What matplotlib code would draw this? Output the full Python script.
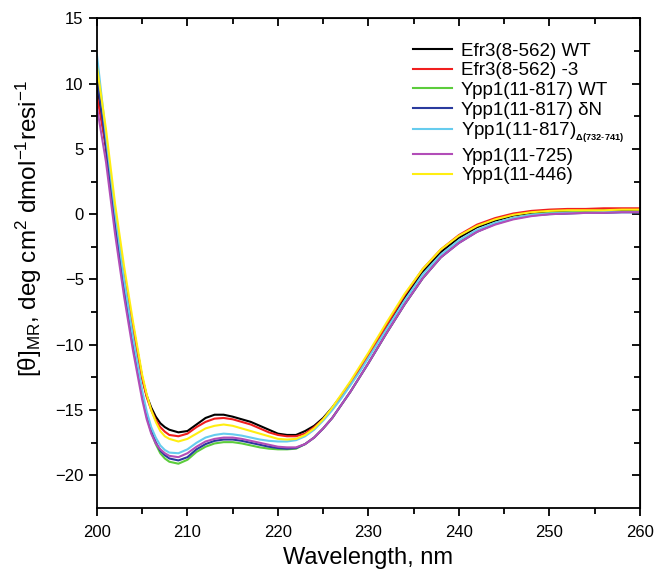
import matplotlib
matplotlib.use("Agg")
import matplotlib.pyplot as plt

plt.rcParams["font.family"] = ["Liberation Sans", "DejaVu Sans"]
plt.rcParams["mathtext.fontset"] = "custom"
plt.rcParams["mathtext.rm"] = "Liberation Sans"
plt.rcParams["mathtext.it"] = "Liberation Sans:italic"
plt.rcParams["mathtext.bf"] = "Liberation Sans:bold"

# wavelengths (nm) shared by all spectra
wl = [200, 201, 202, 203, 204, 205, 205.5, 206, 206.5, 207, 207.5, 208, 209, 210, 211,
      212, 213, 214, 215, 216, 217, 218, 219, 220, 221, 222, 223, 224, 225, 226, 227,
      228, 229, 230, 232, 234, 236, 238, 240, 242, 244, 246, 248, 250, 252, 254, 256,
      258, 260]

efr3_wt = [10.0, 5.0, -0.5, -5.0, -8.6, -12.5, -13.9, -14.8, -15.5, -16.0, -16.3, -16.5,
           -16.7, -16.6, -16.1, -15.6, -15.35, -15.35, -15.5, -15.7, -15.9, -16.2, -16.5,
           -16.8, -16.9, -16.9, -16.6, -16.2, -15.6, -14.8, -13.9, -12.9, -11.9, -10.8,
           -8.6, -6.4, -4.4, -2.9, -1.8, -1.0, -0.5, -0.1, 0.1, 0.2, 0.25, 0.3, 0.3, 0.3, 0.35]
efr3_m3 = [9.0, 5.2, -0.3, -4.8, -8.8, -12.6, -14.0, -15.0, -15.75, -16.3, -16.65, -16.9,
           -17.0, -16.8, -16.3, -15.9, -15.65, -15.6, -15.7, -15.9, -16.1, -16.4, -16.7,
           -16.9, -17.0, -17.0, -16.8, -16.3, -15.7, -14.9, -14.0, -13.0, -11.9, -10.8,
           -8.5, -6.2, -4.2, -2.7, -1.6, -0.8, -0.3, 0.05, 0.25, 0.35, 0.4, 0.4, 0.45, 0.45, 0.45]
ypp1_wt = [11.5, 5.8, -0.5, -5.6, -9.9, -13.8, -15.5, -16.7, -17.6, -18.3, -18.7, -18.95,
           -19.1, -18.8, -18.2, -17.8, -17.55, -17.45, -17.45, -17.55, -17.7, -17.85, -17.95,
           -18.0, -18.0, -17.95, -17.6, -17.1, -16.4, -15.6, -14.6, -13.6, -12.5, -11.4,
           -9.1, -6.9, -4.9, -3.3, -2.15, -1.3, -0.7, -0.3, -0.05, 0.1, 0.15, 0.2, 0.2, 0.2, 0.2]
ypp1_dn = [10.5, 5.3, -0.8, -5.8, -10.0, -13.8, -15.4, -16.6, -17.45, -18.1, -18.45, -18.7,
           -18.85, -18.6, -18.0, -17.6, -17.35, -17.25, -17.25, -17.35, -17.5, -17.65, -17.8,
           -17.9, -17.95, -17.9, -17.6, -17.1, -16.4, -15.6, -14.6, -13.6, -12.5, -11.4,
           -9.1, -6.9, -4.9, -3.3, -2.2, -1.35, -0.75, -0.35, -0.1, 0.0, 0.05, 0.1, 0.1, 0.15, 0.15]
ypp1_del = [12.2, 6.0, 0.2, -5.0, -9.5, -13.5, -15.1, -16.3, -17.1, -17.7, -18.05, -18.25,
            -18.3, -18.0, -17.5, -17.1, -16.9, -16.8, -16.85, -16.95, -17.1, -17.25, -17.35,
            -17.4, -17.4, -17.3, -17.0, -16.5, -15.8, -15.0, -14.1, -13.1, -12.1, -11.0,
            -8.8, -6.6, -4.6, -3.1, -2.0, -1.2, -0.65, -0.3, -0.05, 0.05, 0.1, 0.1, 0.15, 0.15, 0.15]
ypp1_725 = [8.2, 4.0, -1.5, -6.3, -10.5, -14.2, -15.7, -16.8, -17.55, -18.0, -18.3, -18.5,
            -18.6, -18.3, -17.8, -17.4, -17.2, -17.1, -17.1, -17.2, -17.35, -17.5, -17.65,
            -17.8, -17.85, -17.85, -17.6, -17.1, -16.4, -15.6, -14.6, -13.6, -12.5, -11.4,
            -9.1, -6.9, -4.9, -3.3, -2.2, -1.35, -0.8, -0.4, -0.15, 0.0, 0.05, 0.1, 0.1, 0.15, 0.15]
ypp1_446 = [11.3, 6.5, 0.8, -4.0, -8.3, -12.3, -13.8, -15.0, -15.9, -16.6, -17.0, -17.2,
            -17.4, -17.2, -16.8, -16.4, -16.2, -16.1, -16.2, -16.4, -16.6, -16.8, -17.0,
            -17.2, -17.25, -17.2, -16.9, -16.4, -15.7, -14.8, -13.8, -12.8, -11.7, -10.6,
            -8.3, -6.1, -4.2, -2.7, -1.65, -0.9, -0.4, -0.05, 0.15, 0.25, 0.3, 0.3, 0.3, 0.35, 0.35]

labels = ["Efr3(8-562) WT", "Efr3(8-562) -3", "Ypp1(11-817) WT", "Ypp1(11-817) \u03b4N",
          r"Ypp1(11-817)$_{{}_{\mathbf{\Delta(732\text{-}741)}}}$", "Ypp1(11-725)", "Ypp1(11-446)"]
colors = ["#000000", "#f01f1f", "#5ccc3c", "#2a3a9e", "#66ccee", "#b24db8", "#ffee11"]
series = [efr3_wt, efr3_m3, ypp1_wt, ypp1_dn, ypp1_del, ypp1_725, ypp1_446]

fig = plt.figure(figsize=(6.55, 5.69), dpi=100)
ax = fig.add_axes([0.148, 0.107, 0.829, 0.861])

for vals, lab, col in zip(series, labels, colors):
    ax.plot(wl, vals, color=col, lw=1.5, label=lab)

ax.set_xlim(200, 260)
ax.set_ylim(-22.5, 15)
ax.set_xticks(range(200, 261, 10))
ax.set_xticks(range(205, 260, 10), minor=True)
ax.set_yticks(range(-20, 16, 5))
ax.set_yticks([-17.5, -12.5, -7.5, -2.5, 2.5, 7.5, 12.5], minor=True)
ax.tick_params(which="both", direction="out", labelsize=12, width=1.3)
ax.tick_params(which="major", length=6)
ax.tick_params(which="minor", length=4)
ax.tick_params(axis="x", which="both", pad=6)
for s in ax.spines.values():
    s.set_linewidth(1.3)

# inward ticks on the top and right sides
top = ax.secondary_xaxis("top")
top.set_xticks(range(200, 261, 10))
top.set_xticks(range(205, 260, 10), minor=True)
top.tick_params(which="both", direction="in", labeltop=False, width=1.3)
top.tick_params(which="major", length=6)
top.tick_params(which="minor", length=4)
right = ax.secondary_yaxis("right")
right.set_yticks(range(-20, 16, 5))
right.set_yticks([-17.5, -12.5, -7.5, -2.5, 2.5, 7.5, 12.5], minor=True)
right.tick_params(which="both", direction="in", labelright=False, width=1.3)
right.tick_params(which="major", length=6)
right.tick_params(which="minor", length=4)

ax.set_xlabel("Wavelength, nm", fontsize=17, labelpad=5)
ax.set_ylabel("[\u03b8]$_{\\mathrm{MR}}$, deg cm$^{2}$ dmol$^{-1}$resi$^{-1}$", fontsize=17.5)
ax.yaxis.set_label_coords(-0.098, 0.57)

ax.legend(loc="upper left", frameon=False, fontsize=13.5, handlelength=2.1,
          handletextpad=0.48, labelspacing=0.13, borderpad=0, borderaxespad=0,
          bbox_to_anchor=(0.582, 0.95))

fig.savefig("out.png", dpi=100)
